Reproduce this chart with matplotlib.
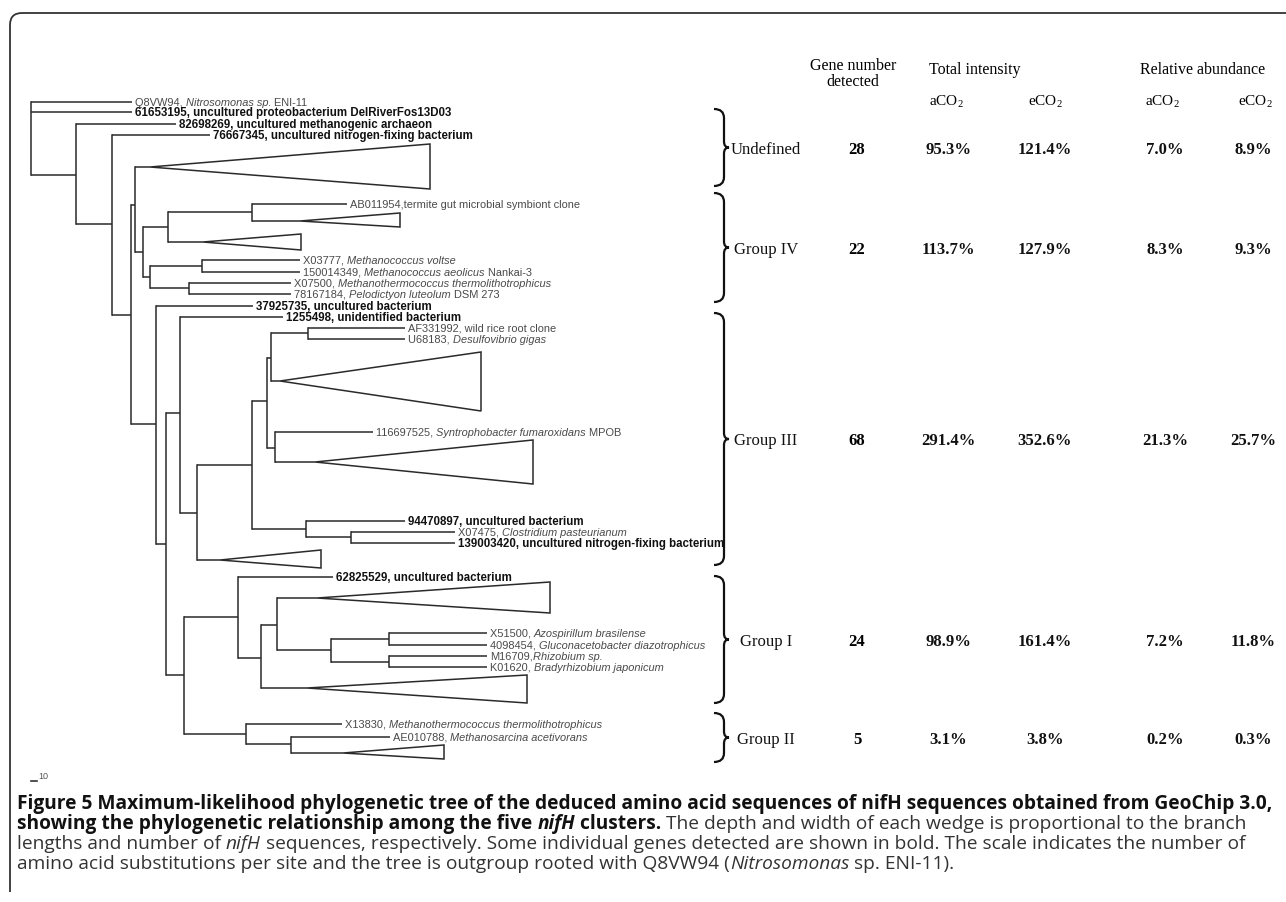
import matplotlib
matplotlib.use("Agg")
import matplotlib.pyplot as plt
from matplotlib.path import Path
from matplotlib.patches import PathPatch, Polygon

plt.rcParams["mathtext.fontset"] = "custom"
plt.rcParams["mathtext.rm"] = "Liberation Serif"

W, H = 1286, 902

# tree: internal nodes (name, parent, depth x, y where the branch joins it)
nodes = [
    ("root", None, 31, None),
    ("n1", "root", 76, 175),
    ("n2", "n1", 112, 224),
    ("n3", "n2", 131, 315),
    ("n4", "n3", 135, 205),
    ("n5", "n4", 143, 252),
    ("n6", "n5", 168, 227),
    ("n7", "n6", 252, 212),
    ("n8", "n5", 150, 277),
    ("n9", "n8", 202, 266),
    ("n10", "n8", 189, 288),
    ("n11", "n3", 156, 424),
    ("n12", "n11", 166, 544),
    ("n13", "n12", 180, 413),
    ("n14", "n13", 197, 513),
    ("n15", "n14", 252, 465),
    ("n16", "n15", 267, 401),
    ("n17", "n16", 271, 358),
    ("n18", "n17", 308, 333),
    ("n19", "n16", 275, 448),
    ("n20", "n15", 306, 529),
    ("n21", "n20", 351, 537),
    ("n22", "n12", 184, 675),
    ("n23", "n22", 238, 617),
    ("n24", "n23", 261, 658),
    ("n25", "n24", 277, 625),
    ("n26", "n25", 331, 650),
    ("n27", "n26", 389, 639),
    ("n28", "n26", 389, 662),
    ("n29", "n22", 246, 734),
    ("n30", "n29", 291, 744),
]

# leaves (parent, branch end x, y, label pieces: r=regular i=italic b=bold)
leaves = [
    ("root", 132, 102, [("Q8VW94, ", "r"), ("Nitrosomonas sp.", "i"), (" ENI-11", "r")]),
    ("root", 132, 112, [("61653195, uncultured proteobacterium DelRiverFos13D03", "b")]),
    ("n1", 176, 124, [("82698269, uncultured methanogenic archaeon", "b")]),
    ("n2", 210, 135, [("76667345, uncultured nitrogen-fixing bacterium", "b")]),
    ("n7", 347, 204, [("AB011954,termite gut microbial symbiont clone", "r")]),
    ("n9", 300, 260, [("X03777, ", "r"), ("Methanococcus voltse", "i")]),
    ("n9", 300, 272, [("150014349, ", "r"), ("Methanococcus aeolicus", "i"), (" Nankai-3", "r")]),
    ("n10", 291, 283, [("X07500, ", "r"), ("Methanothermococcus thermolithotrophicus", "i")]),
    ("n10", 291, 294, [("78167184, ", "r"), ("Pelodictyon luteolum", "i"), (" DSM 273", "r")]),
    ("n11", 253, 306, [("37925735, uncultured bacterium", "b")]),
    ("n13", 283, 317, [("1255498, unidentified bacterium", "b")]),
    ("n18", 405, 328, [("AF331992, wild rice root clone", "r")]),
    ("n18", 405, 339, [("U68183, ", "r"), ("Desulfovibrio gigas", "i")]),
    ("n19", 373, 432, [("116697525, ", "r"), ("Syntrophobacter fumaroxidans", "i"), (" MPOB", "r")]),
    ("n20", 405, 521, [("94470897, uncultured bacterium", "b")]),
    ("n21", 455, 532, [("X07475, ", "r"), ("Clostridium pasteurianum", "i")]),
    ("n21", 455, 543, [("139003420, uncultured nitrogen-fixing bacterium", "b")]),
    ("n23", 333, 577, [("62825529, uncultured bacterium", "b")]),
    ("n27", 487, 633, [("X51500, ", "r"), ("Azospirillum brasilense", "i")]),
    ("n27", 487, 645, [("4098454, ", "r"), ("Gluconacetobacter diazotrophicus", "i")]),
    ("n28", 487, 656, [("M16709,", "r"), ("Rhizobium sp.", "i")]),
    ("n28", 487, 667, [("K01620, ", "r"), ("Bradyrhizobium japonicum", "i")]),
    ("n29", 342, 724, [("X13830, ", "r"), ("Methanothermococcus thermolithotrophicus", "i")]),
    ("n30", 390, 737, [("AE010788, ", "r"), ("Methanosarcina acetivorans", "i")]),
]

# collapsed clades (parent, tip x, right x, top y, bottom y, branch y)
wedges = [
    ("n4", 150, 430, 144, 189, 167),
    ("n7", 300, 400, 213, 227, 221),
    ("n6", 203, 301, 234, 250, 242),
    ("n17", 280, 481, 352, 411, 381),
    ("n19", 315, 533, 440, 484, 462),
    ("n14", 220, 321, 550, 568, 560),
    ("n25", 317, 550, 582, 613, 598),
    ("n24", 307, 527, 675, 703, 688),
    ("n30", 343, 444, 745, 759, 753),
]

# table on the right
groups = ["Undefined", "Group IV", "Group III", "Group I", "Group II"]
group_top = [109, 193, 313, 576, 713]
group_bottom = [186, 302, 565, 703, 762]
gene_number = [28, 22, 68, 24, 5]
intensity_a = [95.3, 113.7, 291.4, 98.9, 3.1]
intensity_e = [121.4, 127.9, 352.6, 161.4, 3.8]
abundance_a = [7.0, 8.3, 21.3, 7.2, 0.2]
abundance_e = [8.9, 9.3, 25.7, 11.8, 0.3]

caption = [
    [("Figure 5 Maximum-likelihood phylogenetic tree of the deduced amino acid sequences of nifH sequences obtained from GeoChip 3.0,", "b")],
    [("showing the phylogenetic relationship among the five ", "b"), ("nifH", "bi"), (" clusters.", "b"),
     (" The depth and width of each wedge is proportional to the branch", "r")],
    [("lengths and number of ", "r"), ("nifH", "i"),
     (" sequences, respectively. Some individual genes detected are shown in bold. The scale indicates the number of", "r")],
    [("amino acid substitutions per site and the tree is outgroup rooted with Q8VW94 (", "r"), ("Nitrosomonas", "i"),
     (" sp. ENI-11).", "r")],
]

STYLE = {"r": dict(weight="normal", style="normal"),
         "i": dict(weight="normal", style="italic"),
         "b": dict(weight="bold", style="normal"),
         "bi": dict(weight="bold", style="italic")}

fig = plt.figure(figsize=(W / 100, H / 100), dpi=100)
ax = fig.add_axes([0, 0, 1, 1])
ax.set_xlim(0, W)
ax.set_ylim(H, 0)
ax.axis("off")
renderer = fig.canvas.get_renderer()

LC = "#2a2a2a"
LW = 1.1


def width_of(s, **kw):
    t = ax.text(0, 0, s + "|", **kw)
    w1 = t.get_window_extent(renderer).width
    t.set_text("|")
    w2 = t.get_window_extent(renderer).width
    t.remove()
    return w1 - w2


def rich(x, y, parts, size, family, colors):
    base = y + 0.36 * size * 100 / 72
    for s, st in parts:
        kw = dict(fontsize=size, family=family, **STYLE[st])
        ax.text(x, base, s, va="baseline", ha="left", color=colors[st], **kw)
        x += width_of(s, **kw)


# frame
fr = Path([(10, 892), (10, 25), (10, 13), (22, 13), (W, 13)],
          [Path.MOVETO, Path.LINETO, Path.CURVE3, Path.CURVE3, Path.LINETO])
ax.add_patch(PathPatch(fr, fill=False, ec="#333333", lw=1.3))

# tree
nx = {n: x for n, p, x, y in nodes}
kids = {n: [] for n, p, x, y in nodes}
for n, p, x, y in nodes:
    if p is not None:
        kids[p].append(y)
        ax.plot([nx[p], x], [y, y], color=LC, lw=LW, solid_capstyle="butt")
for p, x, y, parts in leaves:
    kids[p].append(y)
    ax.plot([nx[p], x], [y, y], color=LC, lw=LW, solid_capstyle="butt")
    size = 8.3 if parts[0][1] == "b" else 7.9
    rich(x + 3, y, parts, size, "Liberation Sans",
         {"r": "#4a4a4a", "i": "#4a4a4a", "b": "#111111", "bi": "#111111"})
for p, tx, rx, top, bot, y in wedges:
    kids[p].append(y)
    ax.plot([nx[p], tx], [y, y], color=LC, lw=LW, solid_capstyle="butt")
    ax.add_patch(Polygon([(tx, y), (rx, top), (rx, bot)], closed=True,
                         fill=False, ec=LC, lw=LW, joinstyle="miter"))
for n, ys in kids.items():
    if ys:
        ax.plot([nx[n], nx[n]], [min(ys), max(ys)], color=LC, lw=LW, solid_capstyle="projecting")

# scale bar
ax.plot([31, 37], [781, 781], color="#333333", lw=1.2)
ax.text(38, 779, "10", fontsize=6.5, family="Liberation Sans", color="#555555", va="baseline")

# brackets and table
serif = "Liberation Serif"
for g, t, b, n, ia, ie, aa, ae in zip(groups, group_top, group_bottom, gene_number,
                                      intensity_a, intensity_e, abundance_a, abundance_e):
    m = (t + b) / 2
    xl, xv, xt = 714, 724, 729
    br = Path([(xl, t), (xv, t), (xv, t + 9), (xv, m - 6), (xv, m), (xt, m), (xv, m), (xv, m + 6),
               (xv, b - 9), (xv, b), (xl, b)],
              [Path.MOVETO, Path.CURVE3, Path.CURVE3, Path.LINETO, Path.CURVE3, Path.CURVE3,
               Path.CURVE3, Path.CURVE3, Path.LINETO, Path.CURVE3, Path.CURVE3])
    ax.add_patch(PathPatch(br, fill=False, ec="#111111", lw=1.6))
    yb = m + 6
    ax.text(766, yb, g, fontsize=12, family=serif, ha="center", va="baseline", color="#111111")
    ax.text(857, yb, str(n), fontsize=12, family=serif, weight="bold", ha="center", va="baseline")
    for cx, v in zip([948, 1045, 1165, 1253], [ia, ie, aa, ae]):
        ax.text(cx, yb, f"{v:.1f}%", fontsize=12, family=serif, weight="bold",
                ha="center", va="baseline", color="#111111")

ax.text(853, 70, "Gene number", fontsize=11.5, family=serif, ha="center", va="baseline")
ax.text(853, 86, "detected", fontsize=11.5, family=serif, ha="center", va="baseline")
ax.text(929, 74, "Total intensity", fontsize=11.5, family=serif, ha="left", va="baseline")
ax.text(1140, 74, "Relative abundance", fontsize=11.5, family=serif, ha="left", va="baseline")
for cx, lab in zip([946, 1045, 1162, 1255], ["aCO", "eCO", "aCO", "eCO"]):
    ax.text(cx, 105, lab + r"$_{\rm 2}$", fontsize=11, family=serif, ha="center", va="baseline")

# caption
size = 12.0
w = width_of(caption[0][0][0], fontsize=size, family="Open Sans", weight="bold")
size = size * 1248 / w
cols = {"r": "#333333", "i": "#333333", "b": "#111111", "bi": "#111111"}
for i, line in enumerate(caption):
    rich(17, 802 + i * 20, line, size, "Open Sans", cols)

fig.savefig("out.png", dpi=100)
